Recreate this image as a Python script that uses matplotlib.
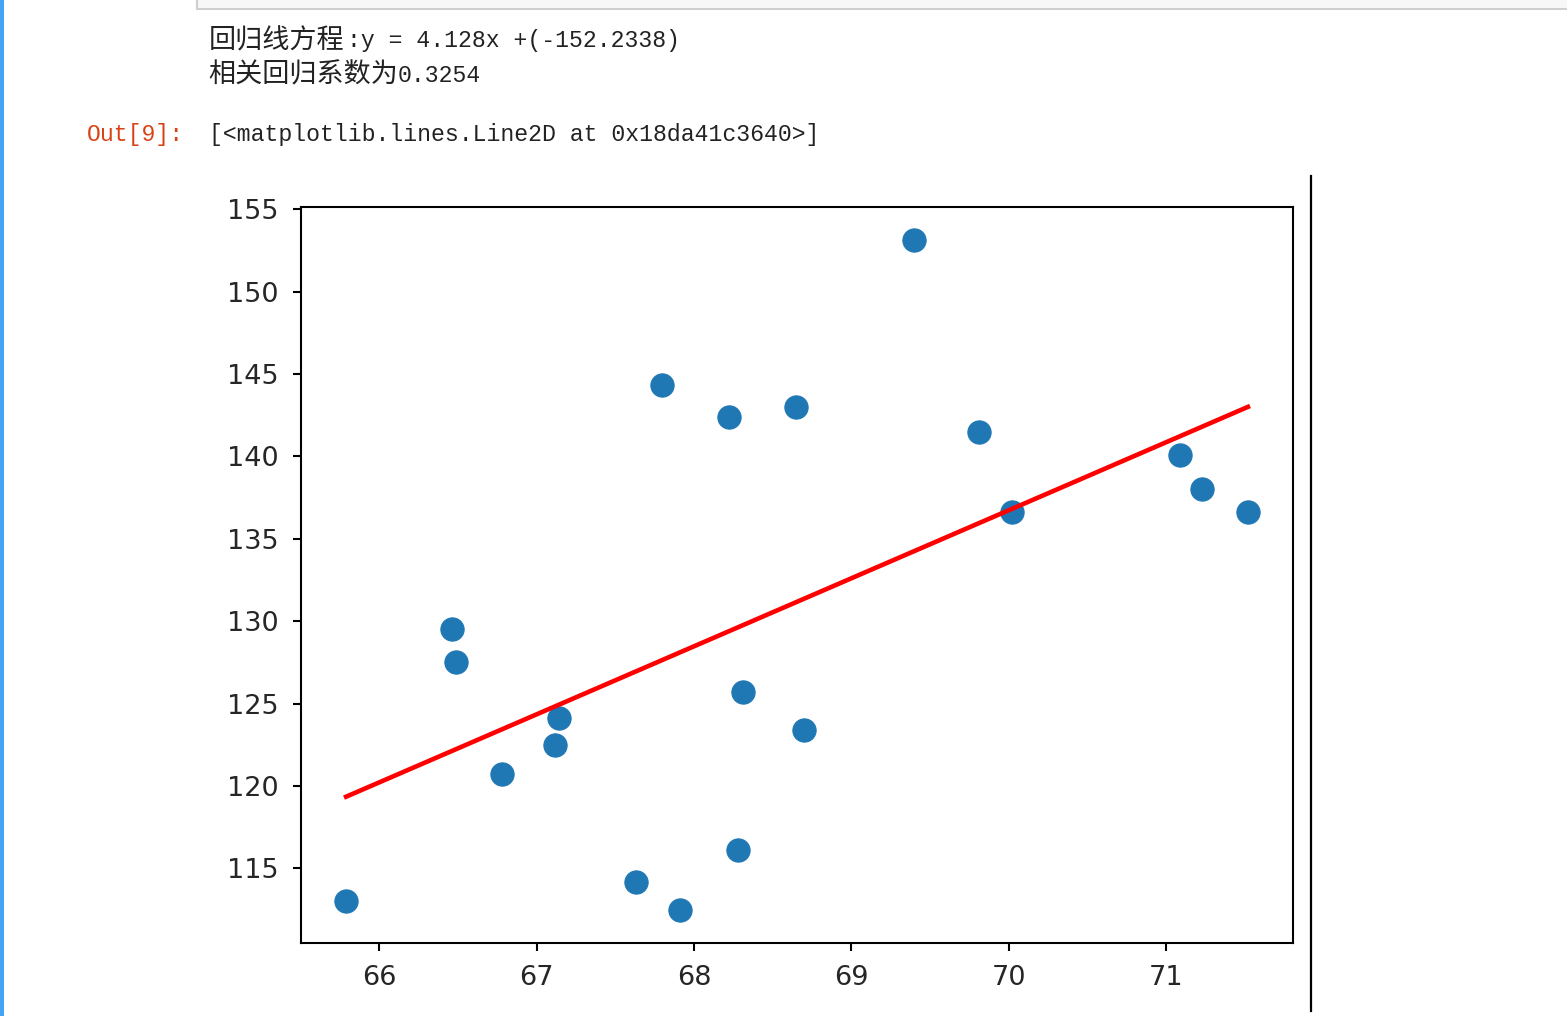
'''
Recreate the notebook output: regression line over height/weight scatter
'''

import numpy as np
import matplotlib.pyplot as plt
from matplotlib.lines import Line2D
from matplotlib.patches import Rectangle

W, H = 1567, 1016

# scatter data
height = [65.79, 66.46, 66.49, 66.78, 67.12, 67.14, 67.63, 67.80, 67.91, 68.22,
          68.28, 68.31, 68.65, 68.70, 69.40, 69.81, 70.02, 71.09, 71.23, 71.52]
weight = [113.0, 129.5, 127.5, 120.7, 122.5, 124.1, 114.2, 144.3, 112.5, 142.4,
          116.1, 125.7, 143.0, 123.4, 153.1, 141.5, 136.6, 140.1, 138.0, 136.6]

# regression result printed above the chart
SLOPE = 4.128
INTERCEPT = -152.2338
R_TEXT = '0.3254'

CJK = ['Noto Sans CJK SC', 'DejaVu Sans']
MONO = ['Liberation Mono', 'Noto Sans CJK SC']


def put(px, py, s, family, size, color='#222222'):
  # place text with pixel coords measured from the top-left corner
  fig.text(px / W, 1 - py / H, s, family=family, fontsize=size, color=color,
           va='center', ha='left')


fig = plt.figure(figsize=(W / 100, H / 100), dpi=100)

# notebook chrome
fig.add_artist(Rectangle((0, 0), 4 / W, 1, transform=fig.transFigure,
                         facecolor='#42A5F5', edgecolor='none'))
fig.add_artist(Rectangle((197 / W, 1 - 9 / H), 1, 0.1, transform=fig.transFigure,
                         facecolor='#f7f7f7', edgecolor='#cfcfcf', lw=1.5))
fig.add_artist(Line2D([1311 / W, 1311 / W], [1 - 176 / H, 1 - 1011 / H],
                      transform=fig.transFigure, color='black', lw=1.6))

put(209, 41, '回归线方程', CJK, 19.5)
put(347, 41, f':y = {SLOPE}x +({INTERCEPT})', MONO, 16.7)
put(208, 75, '相关回归系数为', CJK, 19.5)
put(398, 75, R_TEXT, MONO, 16.7)
put(87, 134, 'Out[9]:', MONO, 16.7, color='#D84315')
put(209, 134, '[<matplotlib.lines.Line2D at 0x18da41c3640>]', MONO, 16.7)

ax = fig.add_axes([301 / W, 73 / H, 992 / W, 736 / H])
ax.scatter(height, weight, s=280, color='#1f77b4', edgecolors='face', linewidths=0.8)

x_line = np.array([min(height), max(height)])
ax.plot(x_line, SLOPE * x_line + INTERCEPT, color='red', lw=3.3)

ax.tick_params(labelsize=19.5, length=6, width=1.5, pad=10, labelcolor='#262626')
for spine in ax.spines.values():
  spine.set_linewidth(1.5)

fig.savefig('out.png', dpi=100)
